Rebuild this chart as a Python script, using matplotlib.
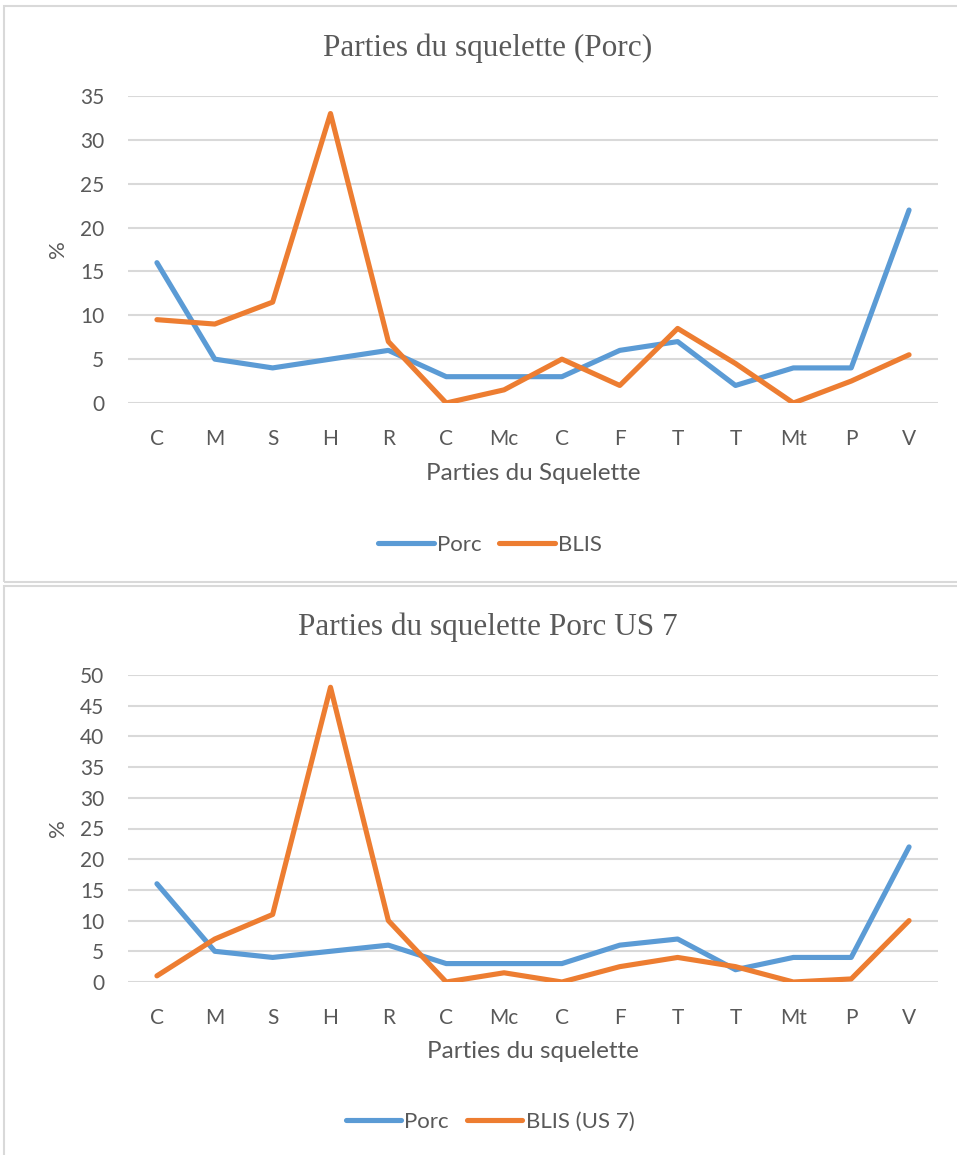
import matplotlib
matplotlib.use("Agg")
import matplotlib.pyplot as plt
from matplotlib.patches import Rectangle

# categories (skeleton parts)
parts = ["C", "M", "S", "H", "R", "C", "Mc", "C", "F", "T", "T", "Mt", "P", "V"]

# chart 1
porc_1 = [16, 5, 4, 5, 6, 3, 3, 3, 6, 7, 2, 4, 4, 22]
blis_1 = [9.5, 9, 11.5, 33, 7, 0, 1.5, 5, 2, 8.5, 4.5, 0, 2.5, 5.5]

# chart 2
porc_2 = [16, 5, 4, 5, 6, 3, 3, 3, 6, 7, 2, 4, 4, 22]
blis_2 = [1, 7, 11, 48, 10, 0, 1.5, 0, 2.5, 4, 2.5, 0, 0.5, 10]

BLUE = "#5B9BD5"
ORANGE = "#ED7D31"
GRID = "#D9D9D9"
TXT = "#595959"

W, H = 957, 1155
fig = plt.figure(figsize=(W / 100, H / 100), dpi=100)
plt.rcParams['font.family'] = ['Lato', 'DejaVu Sans']


def px(x, y):
    return x / W, 1 - y / H


# chart frames
for (y0, y1) in [(6, 582), (586, 1160)]:
    fig.patches.append(Rectangle((4 / W, 1 - y1 / H), (W - 4) / W + 0.01, (y1 - y0) / H,
                                 transform=fig.transFigure, fill=False,
                                 edgecolor=GRID, lw=1.5, zorder=0))


def draw(top_px, bot_px, ymax, porc, blis, title, xlabel, title_y, xlab_y, leg_y, blis_name):
    l, b = px(128, bot_px)
    r, t = px(938, top_px)
    ax = fig.add_axes([l, b, r - l, t - b])
    x = range(len(parts))
    ax.plot(x, porc, color=BLUE, lw=3.7, solid_capstyle="round", solid_joinstyle="round", label="Porc")
    ax.plot(x, blis, color=ORANGE, lw=3.7, solid_capstyle="round", solid_joinstyle="round", label=blis_name)
    ax.set_xlim(-0.5, len(parts) - 0.5)
    ax.set_ylim(0, ymax)
    ax.set_yticks(range(0, ymax + 1, 5))
    ax.set_xticks(list(x))
    ax.set_xticklabels(parts)
    ax.grid(axis="y", color=GRID, lw=1.5)
    ax.set_axisbelow(True)
    for s in ax.spines.values():
        s.set_visible(False)
    ax.tick_params(axis="both", length=0, labelsize=15, colors=TXT)
    ax.tick_params(axis="y", pad=17)
    ax.tick_params(axis="x", pad=19)
    fig.text(*px(488, title_y), title, ha="center", va="center", fontsize=22.5,
             family="Liberation Serif", color=TXT)
    fig.text(*px(533, xlab_y), xlabel, ha="center", va="center", fontsize=17.5, color=TXT)
    fig.text(*px(58, (top_px + bot_px) / 2), "%", ha="center", va="center", fontsize=16,
             rotation=90, color=TXT)
    fig.legend(handles=ax.get_lines(), loc="center", bbox_to_anchor=px(490, leg_y),
               ncol=2, frameon=False, fontsize=16, handlelength=2.5, handletextpad=0.15,
               columnspacing=0.8, labelcolor=TXT)
    return ax


draw(96, 403, 35, porc_1, blis_1, "Parties du squelette (Porc)", "Parties du Squelette",
     48, 474, 545, "BLIS")
draw(675, 982, 50, porc_2, blis_2, "Parties du squelette Porc US 7", "Parties du squelette",
     627, 1052, 1122, "BLIS (US 7)")

fig.savefig("out.png", dpi=100)
